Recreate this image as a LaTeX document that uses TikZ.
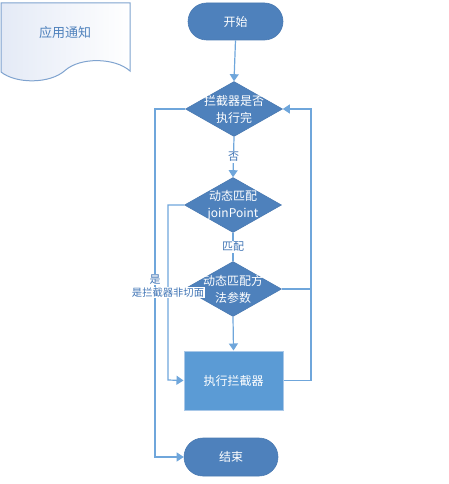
\documentclass[tikz,border=0pt]{standalone}
\usepackage{fontspec}
\setmainfont{Noto Sans CJK SC}
\usetikzlibrary{shapes.geometric,shapes.misc,arrows.meta}
\definecolor{nodeblue}{HTML}{4E81BC}
\definecolor{nodeedge}{HTML}{4A7AB2}
\definecolor{boxblue}{HTML}{5B9BD5}
\definecolor{boxedge}{HTML}{A9C8E8}
\definecolor{linkblue}{HTML}{6FA6DB}
\definecolor{lblblue}{HTML}{3F74B5}
\definecolor{docedge}{HTML}{7FA3CF}
\definecolor{docfill}{HTML}{E4EAF6}
\tikzset{
  wtxt/.style={text=white, font=\fontsize{12}{17}\selectfont, align=center},
  stadium/.style={rounded rectangle, fill=nodeblue, draw=nodeedge, line width=0.6pt, minimum width=95pt, minimum height=37pt, inner sep=0pt, wtxt},
  dia/.style={diamond, fill=nodeblue, draw=nodeedge, line width=0.6pt, minimum width=97pt, minimum height=55pt, inner sep=0pt},
  procbox/.style={rectangle, fill=boxblue, draw=boxedge, line width=1pt, minimum width=99pt, minimum height=59pt, inner sep=0pt, wtxt},
  conn/.style={draw=linkblue, line width=1.2pt},
  arr/.style={conn, -{Triangle[length=7pt,width=9pt]}},
  lbl/.style={text=lblblue, fill=white, inner sep=1pt, font=\fontsize{11}{13}\selectfont},
  slbl/.style={text=lblblue, fill=white, inner sep=0.5pt, font=\fontsize{10.3}{12}\selectfont}
}
\begin{document}
\begin{tikzpicture}[x=1pt,y=-1pt]
\useasboundingbox (0,0) rectangle (448,484);
% document shape
\path[draw=docedge, line width=1pt, left color=docfill, right color=white]
  (1,3) -- (130,3) -- (130,71)
  .. controls (115,57.5) and (80,57) .. (65,70.5)
  .. controls (50,84) and (16,84) .. (1,72) -- cycle;
\node[text=nodeblue, font=\fontsize{13}{15}\selectfont] (doc) at (65,33) {应用通知};

% nodes
\node[stadium] (s) at (235.5,21.5) {开始};
\node[dia] (d1) at (234,109) {};
\node[wtxt] (d1t) at (d1) {拦截器是否\\执行完};
\node[dia] (d2) at (233,205) {};
\node[wtxt] (d2t) at (d2) {动态匹配\\joinPoint};
\node[dia] (d3) at (233,289) {};
\node[wtxt] (d3t) at (d3) {动态匹配方\\法参数};
\node[procbox] (box) at (233.5,380.5) {执行拦截器};
\node[stadium, minimum width=94pt, minimum height=38pt] (e) at (231,457) {结束};

\coordinate (rj) at (311,289);

% connectors
\draw[arr] (s.south) -- (d1.north);
\draw[arr] (d1.south) -- node[lbl] (lno) {否} (d2.north);
\draw[conn] (d2.south) -- node[lbl] (lmatch) {匹配} (d3.north);
\draw[arr] (d3.south) -- (box.north);
\draw[arr] (d1.west) -- (155,109) -- node[pos=0.49, lbl] (lyes) {是} (155,457) -- (e.west);
\draw[arr] (d2.west) -- (168,205) -- node[pos=0.5, slbl] (lyes2) {是拦截器非切面} (168,380) -- (box.west);
\draw[arr] (d3.east) -- (rj) |- (d1.east);
\draw[conn] (box.east) -| (rj);
\end{tikzpicture}
\end{document}
